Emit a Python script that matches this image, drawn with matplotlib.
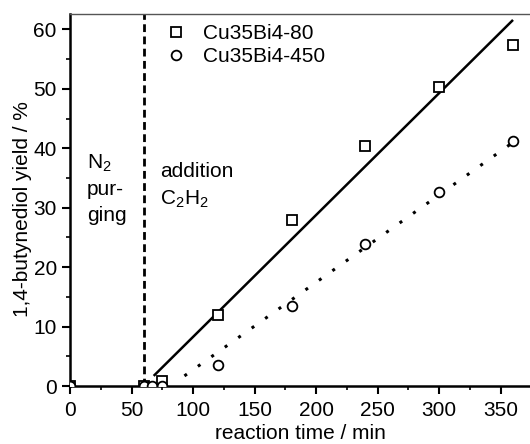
import matplotlib
matplotlib.use("Agg")
import matplotlib.pyplot as plt

plt.rcParams['font.family'] = ['Liberation Sans', 'DejaVu Sans']
plt.rcParams['mathtext.fontset'] = 'custom'
plt.rcParams['mathtext.rm'] = 'Liberation Sans'

# data
t_80 = [0, 60, 75, 120, 180, 240, 300, 360]
y_80 = [0, 0, 0.8, 11.9, 27.9, 40.4, 50.3, 57.4]
t_450 = [0, 60, 67, 75, 120, 180, 240, 300, 360]
y_450 = [0, 0, 0, 0, 3.5, 13.4, 23.9, 32.7, 41.2]
fit80_t = [68, 360]
fit80_y = [1.7, 61.6]
fit450_t = [93, 360]
fit450_y = [1.7, 41.0]
purge_end = 60
labels = ['Cu35Bi4-80', 'Cu35Bi4-450']

FS = 15

fig = plt.figure(figsize=(5.3, 4.44), dpi=100)
ax = fig.add_axes([70/530, 58/444, 460/530, 372/444])

ax.plot(fit80_t, fit80_y, color='black', lw=1.8, solid_capstyle='butt')
ax.plot(fit450_t, fit450_y, color='black', lw=2.2, linestyle=(0, (1, 4.4)))
ax.axvline(purge_end, color='black', lw=2, linestyle=(0, (2.8, 1.6)))

ax.plot(t_80, y_80, 's', ms=7, mfc='white', mec='black', mew=1.3, label=labels[0], zorder=5)
ax.plot(t_450, y_450, 'o', ms=7, mfc='white', mec='black', mew=1.3, label=labels[1], zorder=5)

ax.set_xlim(0, 373.8)
ax.set_ylim(0, 62.6)
ax.set_xticks(range(0, 351, 50))
ax.set_xticks(range(25, 375, 50), minor=True)
ax.set_yticks(range(0, 61, 10))
ax.set_yticks(range(5, 61, 10), minor=True)
ax.tick_params(which='major', direction='out', length=5.5, width=1.5, labelsize=FS, pad=4)
ax.tick_params(axis='x', which='major', pad=5)
ax.tick_params(which='minor', direction='out', length=3, width=1.2)
for s in ['left', 'bottom']:
    ax.spines[s].set_linewidth(1.8)
ax.spines['top'].set_linewidth(1.0)
ax.spines['top'].set_color('#555555')
ax.spines['right'].set_visible(False)

ax.set_xlabel('reaction time / min', fontsize=FS, labelpad=3)
ax.set_ylabel('1,4-butynediol yield / %', fontsize=FS)
ax.yaxis.set_label_coords(-0.083, 0.475)

ax.text(13.8, 36.6, 'N$_2$', fontsize=FS, va='baseline', ha='left')
ax.text(13.8, 32.2, 'pur-', fontsize=FS, va='baseline', ha='left')
ax.text(13.8, 27.8, 'ging', fontsize=FS, va='baseline', ha='left')
ax.text(73.1, 35.1, 'addition', fontsize=FS, va='baseline', ha='left')
ax.text(73.1, 30.6, 'C$_2$H$_2$', fontsize=FS, va='baseline', ha='left')

ax.legend(loc='upper left', bbox_to_anchor=(0.19, 0.995), frameon=False, fontsize=FS,
          handlelength=1.0, handletextpad=0.8, labelspacing=0.2, borderaxespad=0)

fig.savefig('out.png', dpi=100, facecolor='white')
